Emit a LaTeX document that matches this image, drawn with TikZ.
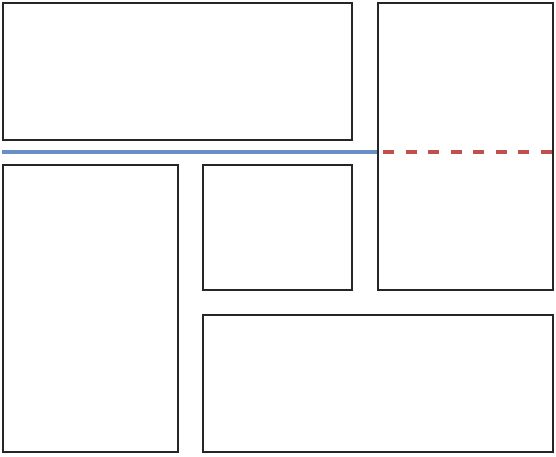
\documentclass[tikz,border=0pt]{standalone}
\definecolor{lineblue}{HTML}{6A8FC8}
\definecolor{linered}{HTML}{C0504D}
\definecolor{boxline}{HTML}{262626}
\begin{document}
\begin{tikzpicture}[x=1pt,y=-1pt,
  box/.style={draw=boxline,line width=1.3pt,anchor=north west,inner sep=0pt,outer sep=0pt},
  blueline/.style={draw=lineblue,line width=3.2pt},
  redline/.style={draw=linered,line width=3.2pt,dash pattern=on 11pt off 11.5pt}]
\useasboundingbox (0,0) rectangle (556,456);
\node[box,minimum width=349pt,minimum height=137pt] (top) at (3,3) {};
\node[box,minimum width=175pt,minimum height=287pt] (right) at (378,3) {};
\node[box,minimum width=175pt,minimum height=287pt] (left) at (3,165) {};
\node[box,minimum width=149pt,minimum height=125pt] (mid) at (203,165) {};
\node[box,minimum width=350pt,minimum height=137pt] (bottom) at (203,315) {};
\coordinate (bs) at (2,152);
\coordinate (be) at (377,152);
\coordinate (rs) at (383,152);
\coordinate (re) at (554,152);
\draw[blueline] (bs) -- (be);
\draw[redline] (rs) -- (re);
\end{tikzpicture}
\end{document}
